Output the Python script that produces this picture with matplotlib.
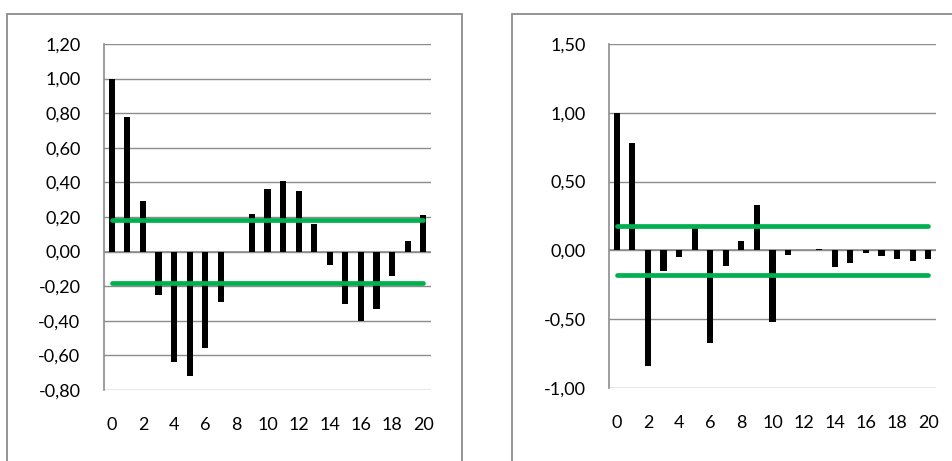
import matplotlib
matplotlib.use("Agg")
import matplotlib.pyplot as plt
import matplotlib.ticker as mt
from matplotlib.patches import Rectangle

plt.rcParams['font.family'] = ['Lato', 'DejaVu Sans']

lags = list(range(21))
# autocorrelation (left) and partial autocorrelation (right)
acf = [1.00, 0.78, 0.29, -0.25, -0.64, -0.72, -0.56, -0.29, 0.00, 0.22, 0.36,
       0.41, 0.35, 0.16, -0.08, -0.30, -0.40, -0.33, -0.14, 0.06, 0.21]
pacf = [1.00, 0.78, -0.84, -0.15, -0.05, 0.16, -0.67, -0.11, 0.07, 0.33, -0.52,
        -0.03, 0.00, 0.01, -0.12, -0.09, -0.02, -0.04, -0.06, -0.08, -0.06]
conf = 0.18
xticks = list(range(0, 21, 2))

W, H = 953, 461
fig = plt.figure(figsize=(W / 100, H / 100), dpi=100)

# chart frames
fig.patches.append(Rectangle((7 / W, -0.1), 455 / W, 0.1 + 447 / H, transform=fig.transFigure,
                             fill=False, edgecolor='#8c8c8c', lw=1.3))
fig.patches.append(Rectangle((512 / W, -0.1), 0.5, 0.1 + 447 / H, transform=fig.transFigure,
                             fill=False, edgecolor='#8c8c8c', lw=1.3))


def draw_panel(rect, vals, ylim, step, ypad):
    ax = fig.add_axes(rect)
    ax.bar(lags, vals, width=0.4, color='black', zorder=3)
    ax.plot([lags[0], lags[-1]], [conf, conf], color='#00b050', lw=3.4,
            solid_capstyle='round', zorder=4)
    ax.plot([lags[0], lags[-1]], [-conf, -conf], color='#00b050', lw=3.4,
            solid_capstyle='round', zorder=4)
    ax.axhline(0, color='#8c8c8c', lw=1.2, zorder=2)
    ax.set_xlim(-0.5, 20.5)
    ax.set_ylim(*ylim)
    ax.set_yticks([round(ylim[0] + i * step, 2) for i in range(int(round((ylim[1] - ylim[0]) / step)) + 1)])
    ax.yaxis.set_major_formatter(mt.FuncFormatter(lambda v, p: ('%.2f' % v).replace('.', ',')))
    ax.set_xticks(xticks)
    ax.grid(axis='y', color='#8c8c8c', lw=1.0, zorder=1)
    ax.set_axisbelow(True)
    for s in ['top', 'right', 'bottom']:
        ax.spines[s].set_visible(False)
    ax.spines['left'].set_color('#8c8c8c')
    ax.spines['left'].set_linewidth(1.2)
    ax.tick_params(axis='y', length=0, pad=ypad, labelsize=13)
    ax.tick_params(axis='x', length=0, pad=19.5, labelsize=13)
    return ax


draw_panel([104 / W, 71 / H, 327 / W, 346 / H], acf, (-0.8, 1.2), 0.2, 17)
draw_panel([609 / W, 73 / H, 327 / W, 344 / H], pacf, (-1.0, 1.5), 0.5, 16.5)

fig.savefig('out.png', dpi=100)
